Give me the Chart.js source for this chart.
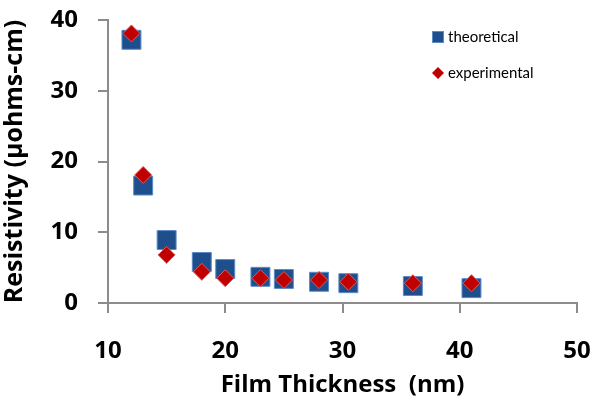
<!DOCTYPE html>
<html>
<head>
<meta charset="utf-8">
<script src="https://cdn.jsdelivr.net/npm/chart.js@4.4.0/dist/chart.umd.min.js"></script>
<style>
  html, body { margin: 0; padding: 0; background: #fff; }
  #wrap { width: 600px; height: 406px; position: relative; }
</style>
</head>
<body>
<div id="wrap"><canvas id="myChart" width="600" height="406"></canvas></div>
<script>
// Data
const thickness = [12, 13, 15, 18, 20, 23, 25, 28, 30.5, 36, 41];
const theoretical = [37.2, 16.6, 8.9, 5.8, 4.8, 3.7, 3.4, 3.0, 2.8, 2.4, 2.1];
const experimental = [38.1, 18.1, 6.8, 4.4, 3.5, 3.5, 3.25, 3.25, 3.0, 2.8, 2.8];
const xTicks = [10, 20, 30, 40, 50];
const yTicks = [0, 10, 20, 30, 40];
const seriesNames = ['theoretical', 'experimental'];

const FONT = '"Open Sans", Lato, sans-serif';
const LEGEND_FONT = 'Lato, "Open Sans", sans-serif';
const axisGray = '#8c8c8c';

function toPoints(xs, ys) {
    return xs.map((x, i) => ({ x: x, y: ys[i] }));
}

// Simple legend drawn in the top right corner, stacked like the original
const cornerLegend = {
    id: 'cornerLegend',
    afterDraw(chart) {
        const ctx = chart.ctx;
        ctx.save();
        ctx.font = '15px ' + LEGEND_FONT;
        ctx.textBaseline = 'middle';

        // theoretical
        ctx.fillStyle = '#1f4e8c';
        ctx.strokeStyle = '#5b8bc9';
        ctx.lineWidth = 1;
        ctx.fillRect(432, 31, 12, 12);
        ctx.strokeRect(432.5, 31.5, 11, 11);
        ctx.fillStyle = '#000';
        ctx.fillText(seriesNames[0], 448, 37);

        // experimental
        ctx.fillStyle = '#c00000';
        ctx.beginPath();
        ctx.moveTo(438, 67);
        ctx.lineTo(444, 73);
        ctx.lineTo(438, 79);
        ctx.lineTo(432, 73);
        ctx.closePath();
        ctx.fill();
        ctx.fillStyle = '#000';
        ctx.fillText(seriesNames[1], 448, 73);
        ctx.restore();
    }
};

const ctx = document.getElementById('myChart').getContext('2d');
new Chart(ctx, {
    type: 'scatter',
    data: {
        datasets: [{
            label: seriesNames[0],
            data: toPoints(thickness, theoretical),
            pointStyle: 'rect',
            pointRadius: 13.4,
            backgroundColor: '#1f4e8c',
            borderColor: '#5b8bc9',
            borderWidth: 1,
            order: 2
        }, {
            label: seriesNames[1],
            data: toPoints(thickness, experimental),
            pointStyle: 'rectRot',
            pointRadius: 8.5,
            backgroundColor: '#c00000',
            borderColor: '#e05a5a',
            borderWidth: 1,
            order: 1
        }]
    },
    options: {
        responsive: false,
        animation: false,
        events: [],
        layout: {
            padding: { top: 20, right: 23, left: 0, bottom: 0 }
        },
        plugins: {
            legend: { display: false },
            tooltip: { enabled: false }
        },
        scales: {
            x: {
                type: 'linear',
                min: 10,
                max: 50,
                afterBuildTicks: (axis) => { axis.ticks = xTicks.map(v => ({ value: v })); },
                ticks: {
                    color: '#000',
                    font: { family: FONT, size: 24, weight: 'bold' },
                    padding: 24
                },
                grid: {
                    drawOnChartArea: false,
                    drawTicks: true,
                    tickLength: 10,
                    color: axisGray,
                    lineWidth: 2
                },
                border: { color: axisGray, width: 2 },
                title: {
                    display: true,
                    text: 'Film Thickness  (nm)',
                    color: '#000',
                    font: { family: FONT, size: 24, weight: 'bold' },
                    padding: { top: 0, bottom: 6 }
                },
                afterFit: (axis) => {
                    axis.height = 103;
                    axis.paddingLeft = 0;
                    axis.paddingRight = 0;
                }
            },
            y: {
                type: 'linear',
                min: 0,
                max: 40,
                afterBuildTicks: (axis) => { axis.ticks = yTicks.map(v => ({ value: v })); },
                ticks: {
                    color: '#000',
                    font: { family: FONT, size: 24, weight: 'bold' },
                    padding: 20
                },
                grid: {
                    drawOnChartArea: false,
                    drawTicks: true,
                    tickLength: 10,
                    color: axisGray,
                    lineWidth: 2
                },
                border: { color: axisGray, width: 2 },
                title: {
                    display: true,
                    text: 'Resistivity (µohms-cm)',
                    color: '#000',
                    font: { family: FONT, size: 25, weight: 'bold' },
                    padding: { top: 0, bottom: 2 }
                },
                afterFit: (axis) => {
                    axis.width = 108;
                    // labels may stick out above/below; the layout padding handles it
                    axis.paddingTop = 0;
                    axis.paddingBottom = 0;
                }
            }
        }
    },
    plugins: [cornerLegend]
});
</script>
</body>
</html>
